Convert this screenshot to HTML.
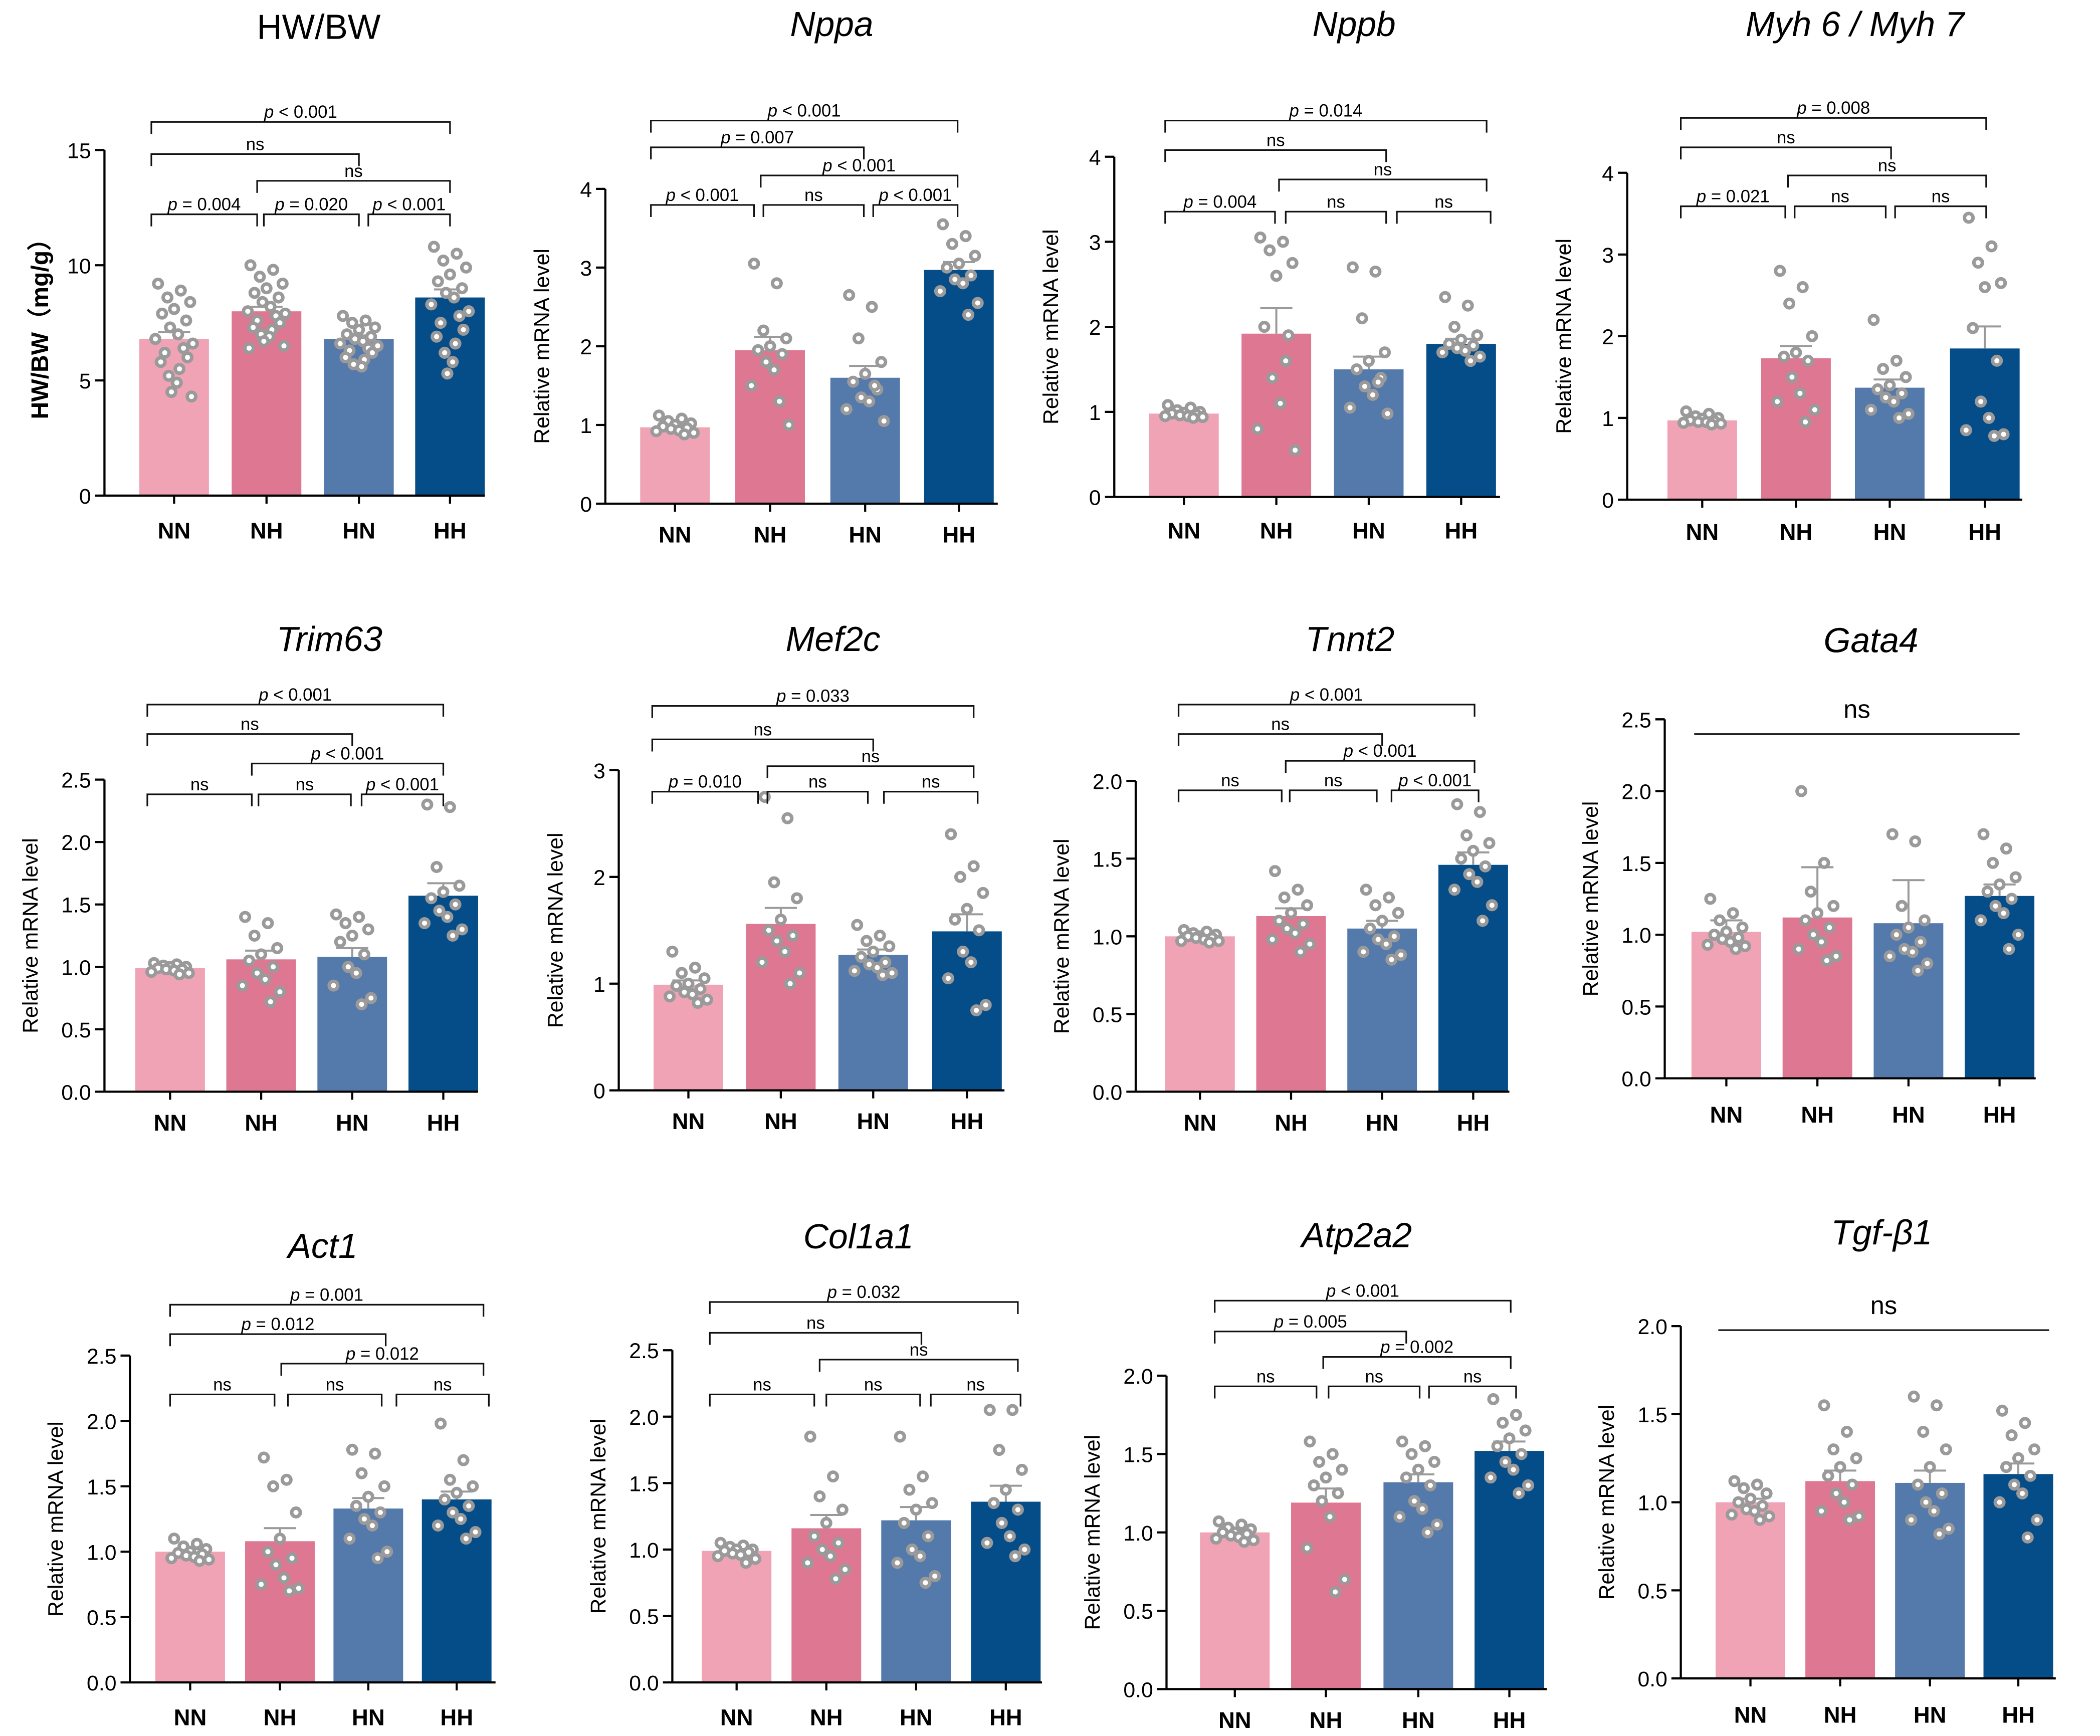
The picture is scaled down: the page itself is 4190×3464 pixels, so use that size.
<!DOCTYPE html>
<html><head><meta charset="utf-8">
<style>
html,body{margin:0;padding:0;background:#fff;}
svg{display:block;}
text{font-family:"Liberation Sans",sans-serif;}
</style></head>
<body>
<svg id="fig" xmlns="http://www.w3.org/2000/svg" width="4190" height="3464" viewBox="0 0 1568 1296" preserveAspectRatio="none"></svg>
<script>
const groups = ["NN","NH","HN","HH"];
const colors = ["#f0a3b5","#de7791","#5479ab","#054d88"];

const hwbwMeans=[6.8,8.0,6.8,8.6]; const hwbwSem=[0.3,0.2,0.15,0.35];
const hwbwDots=[[9.2,8.9,8.6,8.4,8.1,7.9,7.6,7.3,7.0,6.8,6.6,6.4,6.2,6.0,5.8,5.5,5.2,4.9,4.5,4.3],[10.0,9.8,9.5,9.2,9.0,8.8,8.6,8.4,8.2,8.0,7.9,7.8,7.6,7.5,7.3,7.2,7.0,6.9,6.7,6.5,6.4],[7.8,7.6,7.5,7.3,7.2,7.0,6.9,6.8,6.7,6.6,6.5,6.4,6.3,6.2,6.0,5.9,5.7,5.6],[10.8,10.5,10.2,9.9,9.6,9.3,9.0,8.8,8.6,8.3,8.0,7.8,7.5,7.2,6.9,6.6,6.2,5.8,5.3]];
const nppaMeans=[0.97,1.95,1.6,2.97]; const nppaSem=[0.03,0.17,0.15,0.1];
const nppaDots=[[1.12,1.08,1.05,1.02,1.0,0.98,0.96,0.95,0.93,0.92,0.9,0.88],[3.05,2.8,2.2,2.1,2.0,1.95,1.9,1.8,1.7,1.5,1.0,1.3],[2.65,2.5,2.1,1.8,1.65,1.55,1.45,1.35,1.3,1.2,1.05,1.5],[3.55,3.4,3.3,3.15,3.05,3.0,2.9,2.85,2.8,2.7,2.55,2.4]];
const nppbMeans=[0.98,1.92,1.5,1.8]; const nppbSem=[0.02,0.3,0.15,0.06];
const nppbDots=[[1.08,1.05,1.02,1.0,0.99,0.98,0.97,0.96,0.95,0.95,0.94,0.93],[3.05,3.0,2.9,2.75,2.6,2.0,1.9,1.4,1.1,0.8,0.55,1.6],[2.7,2.65,2.1,1.7,1.6,1.5,1.4,1.3,1.2,1.05,0.98,1.35],[2.35,2.25,2.0,1.9,1.85,1.8,1.78,1.75,1.72,1.7,1.65,1.6]];
const myhMeans=[0.97,1.73,1.37,1.85]; const myhSem=[0.02,0.15,0.1,0.27];
const myhDots=[[1.08,1.05,1.02,1.0,0.99,0.97,0.96,0.95,0.95,0.94,0.93,0.92],[2.8,2.6,2.4,2.0,1.8,1.75,1.7,1.5,1.3,1.2,1.1,0.95],[2.2,1.7,1.6,1.5,1.4,1.35,1.3,1.25,1.2,1.1,1.05,1.0],[3.45,3.1,2.9,2.65,2.6,2.1,1.7,1.2,1.0,0.85,0.8,0.78]];
const trimMeans=[0.99,1.06,1.08,1.57]; const trimSem=[0.01,0.07,0.07,0.1];
const trimDots=[[1.03,1.02,1.01,1.0,1.0,0.99,0.98,0.98,0.97,0.96,0.95,0.94],[1.4,1.35,1.25,1.15,1.1,1.05,1.0,0.95,0.9,0.85,0.8,0.72],[1.42,1.4,1.35,1.3,1.25,1.2,1.1,1.0,0.95,0.85,0.75,0.7],[2.3,2.28,1.8,1.65,1.6,1.55,1.5,1.45,1.4,1.35,1.3,1.25]];
const mefMeans=[0.99,1.56,1.27,1.49]; const mefSem=[0.04,0.15,0.05,0.16];
const mefDots=[[1.3,1.15,1.1,1.05,1.0,0.98,0.95,0.92,0.9,0.88,0.85,0.82],[2.75,2.55,1.95,1.8,1.6,1.5,1.45,1.4,1.3,1.2,1.1,1.0],[1.55,1.45,1.4,1.35,1.3,1.25,1.2,1.18,1.15,1.12,1.1,1.08],[2.4,2.1,2.0,1.85,1.7,1.6,1.5,1.3,1.2,1.05,0.8,0.75]];
const tnntMeans=[1.0,1.13,1.05,1.46]; const tnntSem=[0.01,0.05,0.05,0.08];
const tnntDots=[[1.04,1.03,1.02,1.01,1.0,1.0,0.99,0.99,0.98,0.97,0.97,0.96],[1.42,1.3,1.25,1.2,1.15,1.1,1.08,1.05,1.02,0.98,0.95,0.9],[1.3,1.25,1.2,1.15,1.1,1.05,1.0,0.98,0.95,0.9,0.88,0.85],[1.85,1.8,1.65,1.6,1.55,1.5,1.45,1.4,1.35,1.3,1.2,1.1]];
const gataMeans=[1.02,1.12,1.08,1.27]; const gataSem=[0.08,0.35,0.3,0.08];
const gataDots=[[1.25,1.15,1.1,1.05,1.02,1.0,0.98,0.97,0.95,0.93,0.92,0.9],[2.0,1.5,1.3,1.2,1.15,1.1,1.05,1.0,0.95,0.9,0.85,0.82],[1.7,1.65,1.2,1.1,1.05,1.0,0.95,0.9,0.88,0.85,0.8,0.75],[1.7,1.6,1.5,1.4,1.35,1.3,1.25,1.2,1.15,1.1,1.0,0.9]];
const actMeans=[1.0,1.08,1.33,1.40]; const actSem=[0.02,0.1,0.08,0.06];
const actDots=[[1.1,1.06,1.04,1.02,1.0,0.99,0.98,0.97,0.96,0.95,0.94,0.93],[1.72,1.55,1.5,1.3,1.1,1.0,0.95,0.9,0.8,0.75,0.72,0.7],[1.78,1.75,1.6,1.5,1.42,1.35,1.3,1.25,1.2,1.1,1.0,0.95],[1.98,1.7,1.55,1.5,1.45,1.4,1.35,1.3,1.25,1.2,1.15,1.1]];
const colMeans=[0.99,1.16,1.22,1.36]; const colSem=[0.01,0.1,0.1,0.12];
const colDots=[[1.05,1.03,1.02,1.0,1.0,0.99,0.98,0.97,0.96,0.95,0.93,0.9],[1.85,1.55,1.4,1.3,1.2,1.1,1.05,1.0,0.95,0.9,0.85,0.78],[1.85,1.55,1.45,1.35,1.3,1.2,1.1,1.0,0.95,0.9,0.8,0.75],[2.05,2.05,1.75,1.6,1.45,1.35,1.3,1.2,1.1,1.05,1.0,0.95]];
const atpMeans=[1.0,1.19,1.32,1.52]; const atpSem=[0.01,0.09,0.05,0.06];
const atpDots=[[1.07,1.05,1.03,1.02,1.0,1.0,0.99,0.98,0.97,0.96,0.95,0.94],[1.58,1.5,1.45,1.4,1.35,1.3,1.25,1.2,1.1,0.9,0.7,0.62],[1.58,1.55,1.5,1.45,1.4,1.35,1.3,1.2,1.15,1.1,1.05,1.0],[1.85,1.75,1.7,1.65,1.6,1.55,1.5,1.45,1.4,1.35,1.3,1.25]];
const tgfMeans=[1.0,1.12,1.11,1.16]; const tgfSem=[0.02,0.06,0.07,0.06];
const tgfDots=[[1.12,1.1,1.08,1.05,1.02,1.0,0.98,0.96,0.95,0.93,0.92,0.9],[1.55,1.4,1.3,1.25,1.2,1.15,1.1,1.05,1.0,0.95,0.92,0.9],[1.6,1.55,1.4,1.3,1.2,1.1,1.05,1.0,0.95,0.9,0.85,0.82],[1.52,1.45,1.38,1.3,1.25,1.2,1.15,1.1,1.05,1.0,0.9,0.8]];

const panels=[
 {id:"hwbw",title:"HW/BW",it:false,means:hwbwMeans,sem:hwbwSem,dots:hwbwDots,ax:78,y0:370,yt:112,max:15,step:5,dec:0,cx:[130,199,268,336],xe:362,ly:395,tx:238,ty:20,yl:"HW/BW（mg/g）",bold:true,
  br:[[113,336,91,"p < 0.001"],[113,268,115,"ns"],[192,336,135,"ns"],[113,192,160,"p = 0.004"],[197,268,160,"p = 0.020"],[275,336,160,"p < 0.001"]]},
 {id:"nppa",title:"Nppa",it:true,means:nppaMeans,sem:nppaSem,dots:nppaDots,ax:452,y0:376,yt:141,max:4,step:1,dec:0,cx:[504,575,646,716],xe:745,ly:398,tx:621,ty:18,
  br:[[486,715,90,"p < 0.001"],[486,645,110,"p = 0.007"],[568,715,131,"p < 0.001"],[486,563,153,"p < 0.001"],[570,645,153,"ns"],[652,715,153,"p < 0.001"]]},
 {id:"nppb",title:"Nppb",it:true,means:nppbMeans,sem:nppbSem,dots:nppbDots,ax:832,y0:371,yt:117,max:4,step:1,dec:0,cx:[884,953,1022,1091],xe:1120,ly:395,tx:1011,ty:18,
  br:[[870,1110,90,"p = 0.014"],[870,1035,112,"ns"],[955,1110,134,"ns"],[870,952,158,"p = 0.004"],[960,1035,158,"ns"],[1043,1113,158,"ns"]]},
 {id:"myh",title:"Myh 6 / Myh 7",it:true,means:myhMeans,sem:myhSem,dots:myhDots,ax:1215,y0:373,yt:129,max:4,step:1,dec:0,cx:[1271,1341,1411,1482],xe:1510,ly:396,tx:1385,ty:18,
  br:[[1255,1483,88,"p = 0.008"],[1255,1412,110,"ns"],[1335,1483,131,"ns"],[1255,1333,154,"p = 0.021"],[1340,1408,154,"ns"],[1415,1483,154,"ns"]]},
 {id:"trim63",title:"Trim63",it:true,means:trimMeans,sem:trimSem,dots:trimDots,ax:78,y0:815,yt:582,max:2.5,step:0.5,dec:1,cx:[127,195,263,331],xe:357,ly:837,tx:246,ty:477,
  br:[[110,331,526,"p < 0.001"],[110,263,548,"ns"],[188,331,570,"p < 0.001"],[110,188,593,"ns"],[193,262,593,"ns"],[270,331,593,"p < 0.001"]]},
 {id:"mef2c",title:"Mef2c",it:true,means:mefMeans,sem:mefSem,dots:mefDots,ax:462,y0:814,yt:575,max:3,step:1,dec:0,cx:[514,583,652,722],xe:750,ly:836,tx:622,ty:477,
  br:[[487,727,527,"p = 0.033"],[487,652,552,"ns"],[573,727,572,"ns"],[487,566,591,"p = 0.010"],[573,648,591,"ns"],[660,730,591,"ns"]]},
 {id:"tnnt2",title:"Tnnt2",it:true,means:tnntMeans,sem:tnntSem,dots:tnntDots,ax:848,y0:815,yt:583,max:2,step:0.5,dec:1,cx:[896,964,1032,1100],xe:1127,ly:837,tx:1008,ty:477,
  br:[[880,1101,526,"p < 0.001"],[880,1032,548,"ns"],[960,1101,568,"p < 0.001"],[880,957,590,"ns"],[963,1028,590,"ns"],[1039,1104,590,"p < 0.001"]]},
 {id:"gata4",title:"Gata4",it:true,means:gataMeans,sem:gataSem,dots:gataDots,ax:1243,y0:805,yt:537,max:2.5,step:0.5,dec:1,cx:[1289,1357,1425,1493],xe:1520,ly:831,tx:1397,ty:478,
  br:[[1265,1508,548,"ns",true]]},
 {id:"act1",title:"Act1",it:true,means:actMeans,sem:actSem,dots:actDots,ax:97,y0:1256,yt:1012,max:2.5,step:0.5,dec:1,cx:[142,209,275,341],xe:370,ly:1281,tx:241,ty:930,
  br:[[127,361,974,"p = 0.001"],[127,288,996,"p = 0.012"],[210,361,1018,"p = 0.012"],[127,205,1041,"ns"],[215,285,1041,"ns"],[296,365,1041,"ns"]]},
 {id:"col1a1",title:"Col1a1",it:true,means:colMeans,sem:colSem,dots:colDots,ax:502,y0:1256,yt:1008,max:2.5,step:0.5,dec:1,cx:[550,617,684,751],xe:778,ly:1281,tx:641,ty:923,
  br:[[530,760,972,"p = 0.032"],[530,688,995,"ns"],[612,760,1015,"ns"],[530,608,1041,"ns"],[617,687,1041,"ns"],[695,762,1041,"ns"]]},
 {id:"atp2a2",title:"Atp2a2",it:true,means:atpMeans,sem:atpSem,dots:atpDots,ax:871,y0:1261,yt:1027,max:2,step:0.5,dec:1,cx:[922,990,1059,1127],xe:1155,ly:1283,tx:1013,ty:922,
  br:[[907,1128,971,"p < 0.001"],[907,1050,994,"p = 0.005"],[988,1128,1013,"p = 0.002"],[907,983,1035,"ns"],[992,1060,1035,"ns"],[1067,1132,1035,"ns"]]},
 {id:"tgfb1",title:"Tgf-β1",it:true,means:tgfMeans,sem:tgfSem,dots:tgfDots,ax:1255,y0:1253,yt:990,max:2,step:0.5,dec:1,cx:[1307,1374,1441,1507],xe:1535,ly:1279,tx:1405,ty:920,
  br:[[1283,1530,993,"ns",true]]}
];

const NS="http://www.w3.org/2000/svg";
const svg=document.getElementById("fig");
function mk(tag,attrs,parent){const e=document.createElementNS(NS,tag);for(const k in attrs)e.setAttribute(k,attrs[k]);(parent||svg).appendChild(e);return e;}
const jit=[-12,5,-5,12,0,-9,9,-3,3,-14,14,7,-7,10,-10,4,-4,2,-2,13,-13];

panels.forEach(p=>{
  const g=mk("g",{});
  
  
  const ys=v=>p.y0-(v/p.max)*(p.y0-p.yt);
  const t=mk("text",{x:p.tx,y:p.ty+9,"text-anchor":"middle","font-size":26,"font-style":p.it?"italic":"normal"},g);
  t.textContent=p.title;
  
  
  const ya=mk("line",{x1:p.ax,y1:p.y0,x2:p.ax,y2:p.yt,stroke:"#000","stroke-width":1.6},g);
  
  
  for(let v=0;v<=p.max+1e-9;v+=p.step){
    const y=ys(v);
    mk("line",{x1:p.ax-7,y1:y,x2:p.ax,y2:y,stroke:"#000","stroke-width":1.6},g);
    const tl=mk("text",{x:p.ax-10,y:y+6,"text-anchor":"end","font-size":16},g);
    tl.textContent=v.toFixed(p.dec);
    
    
  }
  const ytx=p.ax-(p.dec?50:42), ymid=(p.y0+p.yt)/2;
  const yt=mk("text",{x:ytx,y:ymid,"text-anchor":"middle","font-size":p.bold?18:16,"font-weight":p.bold?"bold":"normal",transform:`rotate(-90 ${ytx} ${ymid})`},g);
  yt.textContent=p.yl||"Relative mRNA level";
  
  
  p.means.forEach((m,i)=>{
    const x=p.cx[i], y=ys(m);
    const b=mk("rect",{x:x-26,y:y,width:52,height:p.y0-y,fill:colors[i]},g);
    
    
    const ye=ys(m+p.sem[i]);
    const eb=mk("path",{d:`M${x} ${y} V${ye} M${x-12} ${ye} H${x+12}`,stroke:"#9a9a9a","stroke-width":1.5,fill:"none"},g);
    
    
    p.dots[i].forEach((v,j)=>{
      const c=mk("circle",{cx:x+jit[j%jit.length],cy:ys(v),r:3.2,fill:"#fff",stroke:"#9a9a9a","stroke-width":2.6},g);
      
      
    });
    mk("line",{x1:x,y1:p.y0,x2:x,y2:p.y0+6,stroke:"#000","stroke-width":1.6},g);
    const cl=mk("text",{x:x,y:p.ly+7,"text-anchor":"middle","font-size":17,"font-weight":"bold"},g);
    cl.textContent=groups[i];
    
    
  });
  const xa=mk("line",{x1:p.ax,y1:p.y0,x2:p.xe,y2:p.y0,stroke:"#000","stroke-width":1.6},g);
  
  
  p.br.forEach(b=>{
    const [x1,x2,y,txt,flat]=b;
    const d=flat?`M${x1} ${y} H${x2}`:`M${x1} ${y+9} V${y} H${x2} V${y+9}`;
    const bl=mk("path",{d:d,stroke:"#111","stroke-width":1.2,fill:"none"},g);
    
    
    const isNs=txt==="ns";
    const tt=mk("text",{x:(x1+x2)/2,y:y-(flat?12:3),"text-anchor":"middle","font-family":"Liberation Serif, serif","font-size":flat?19:13},g);
    if(isNs){tt.textContent=txt;}
    else{
      const s1=mk("tspan",{"font-style":"italic"},tt); s1.textContent="p";
      const s2=mk("tspan",{},tt); s2.textContent=txt.slice(1);
    }
    
    
  });
});
</script>
</body></html>
